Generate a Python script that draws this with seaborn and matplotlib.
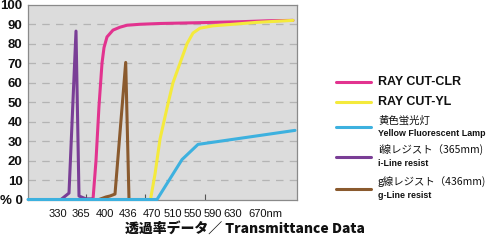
import matplotlib
matplotlib.use("Agg")
import matplotlib.pyplot as plt
from matplotlib.lines import Line2D
from matplotlib.ticker import FuncFormatter, FixedLocator
import seaborn as sns
import pandas as pd

# ---- data (x in axis position units) ----
tick_pos = [29.5, 52.5, 77, 100, 124, 144.5, 164.5, 185, 205, 237]
tick_labels = ["330", "365", "400", "436", "470", "510", "550", "590", "630", "670nm"]
minor_pos = [58, 117, 177, 237]
y_ticks = [0, 10, 20, 30, 40, 50, 60, 70, 80, 90, 100]

clr_x = [65, 68, 71, 74, 76, 79, 85, 92, 99, 112, 132, 170, 212, 240, 265]
clr_y = [0, 20, 48, 70, 78, 83.5, 87, 88.5, 89.5, 90, 90.4, 90.8, 91.3, 91.8, 92]

yl_x = [122.5, 127, 132, 139, 145, 152, 159, 165, 172, 185, 200, 229, 265]
yl_y = [0, 13, 31, 47, 60, 70, 80, 85.5, 88, 89.2, 89.8, 91, 92]

lamp_x = [0, 129, 154, 170, 267]
lamp_y = [0, 0, 20.5, 28.3, 35.5]

iline_x = [33, 41, 48, 51, 58, 64]
iline_y = [0, 3.3, 86.5, 1.8, 0.3, 0.3]

gline_x = [71, 78, 82, 87, 97.7, 101]
gline_y = [0, 1.3, 1.8, 2.8, 70.4, 0]

series = [
    ("RAY CUT-CLR", clr_x, clr_y, "#E2338F"),
    ("RAY CUT-YL", yl_x, yl_y, "#F4EA3C"),
    ("黄色蛍光灯", lamp_x, lamp_y, "#3DB1DF"),
    ("i線レジスト", iline_x, iline_y, "#7A3E96"),
    ("g線レジスト", gline_x, gline_y, "#8A5A2E"),
]
leg_main = ["RAY CUT-CLR", "RAY CUT-YL", "黄色蛍光灯", "i線レジスト（365mm)", "g線レジスト（436mm)"]
leg_sub = [None, None, "Yellow Fluorescent Lamp", "i-Line resist", "g-Line resist"]

sns.set_theme(style="white")
plt.rcParams["font.family"] = ["Liberation Sans", "Noto Sans CJK JP", "DejaVu Sans"]

fig = plt.figure(figsize=(4.91, 2.43), dpi=100)
ax = fig.add_axes([28 / 491, 1 - 199.5 / 243, 268.5 / 491, 194.7 / 243])
ax.set_facecolor("#DCDCDC")

for name, xs, ys, col in series:
    df = pd.DataFrame({"x": xs, "y": ys})
    sns.lineplot(data=df, x="x", y="y", ax=ax, color=col, lw=2.2,
                 sort=False, estimator=None, zorder=3 if name != "黄色蛍光灯" else 4,
                 clip_on=(name != "黄色蛍光灯"))

ax.set_xlim(0, 268.5)
ax.set_ylim(0, 100)
ax.set_xlabel("")
ax.set_ylabel("")
ax.yaxis.set_major_locator(FixedLocator(y_ticks))
ax.yaxis.set_major_formatter(FuncFormatter(lambda v, p: "% 0" if v == 0 else f"{int(round(v))}"))
for lab in ax.get_yticklabels():
    lab.set_fontsize(9.5)
    lab.set_fontweight("bold")
    lab.set_color("#111111")
ax.tick_params(axis="y", length=0, pad=4, labelsize=9.5)
for v in y_ticks[1:-1]:
    ax.axhline(v, color="#B4B4B4", lw=0.9, ls=(0, (6, 5)), zorder=1)

ax.set_xticks(tick_pos)
ax.set_xticklabels(tick_labels, fontsize=8, color="#111111")
ax.set_xticks(minor_pos, minor=True)
ax.tick_params(axis="x", which="major", length=0, pad=7)
ax.tick_params(axis="x", which="minor", direction="in", length=4, width=0.8,
               color="#555555", bottom=True)

for s in ax.spines.values():
    s.set_color("#8A8A8A")
    s.set_linewidth(0.9)
    s.set_visible(True)

# legend
rows = [82, 102, 127, 157, 189]
for i, (name, xs, ys, col) in enumerate(series):
    yy = 1 - rows[i] / 243
    fig.add_artist(Line2D([336 / 491, 371 / 491], [yy, yy], color=col, lw=2.2,
                          transform=fig.transFigure))
    if leg_sub[i] is None:
        fig.text(378 / 491, yy, leg_main[i], fontsize=9, fontweight="bold",
                 va="center", ha="left", color="#111111")
    else:
        fig.text(378 / 491, yy + 7 / 243, leg_main[i], fontsize=7.5,
                 va="center", ha="left", color="#111111",
                 family=["Noto Sans CJK JP", "DejaVu Sans"])
        fig.text(378 / 491, yy - 6.5 / 243, leg_sub[i], fontsize=6.4,
                 fontweight="bold", va="center", ha="left", color="#111111")

fig.text(245 / 491, 1 - 229 / 243, "透過率データ／ Transmittance Data", fontsize=10,
         fontweight="heavy", va="center", ha="center", color="#111111",
         family=["Noto Sans CJK JP", "Liberation Sans"])

fig.savefig("out.png", dpi=100)
